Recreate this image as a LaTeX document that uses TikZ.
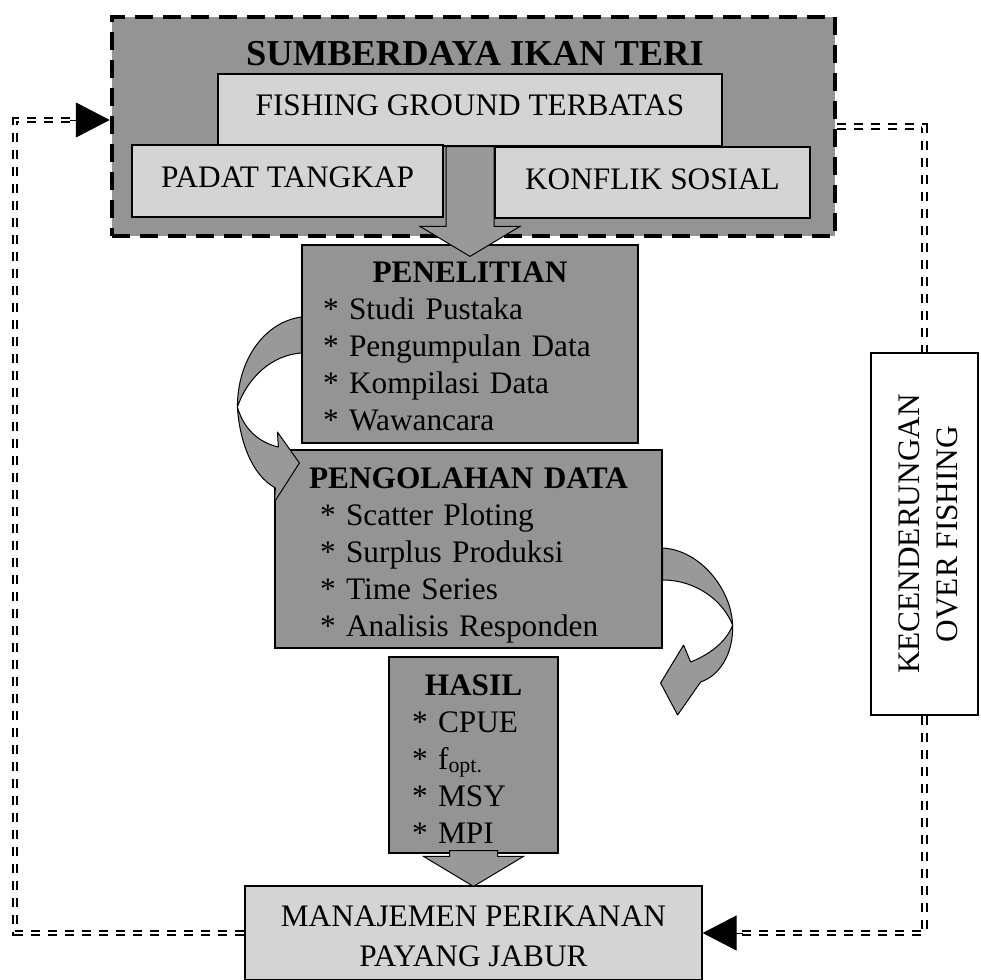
\documentclass[tikz,border=0pt]{standalone}
\usepackage{fontspec}
\setmainfont{Liberation Serif}
\usetikzlibrary{arrows.meta,calc}

\newcommand\boxfont{\fontsize{31.3}{37}\selectfont}
\newcommand\titlefont{\fontsize{36.5}{40}\selectfont\bfseries}

\tikzset{
  darkbox/.style={draw, fill=black!42, line width=1.2pt},
  lightbox/.style={draw, fill=black!17, line width=1.2pt},
  framebox/.style={draw, fill=black!42, line width=4.5pt, dash pattern=on 18pt off 10pt},
  fatarrow/.style={draw, fill=black!40, line width=1pt},
  curlarrow/.style={draw, fill=black!40, line width=1pt, line join=round},
  feedback/.style={double, double distance=2.2pt, line width=2.2pt, dash pattern=on 9pt off 8pt},
  headtip/.style={-{Triangle[length=34pt,width=35pt]}, line width=1pt},
  fat/.style={to path={let \p1=(\tikztostart), \p2=(\tikztotarget) in
    (\x2-24pt,\y1) -- (\x2+24pt,\y1) -- (\x2+24pt,\y2+30pt) -- (\x2+50pt,\y2+30pt)
    -- (\x2,\y2) -- (\x2-50pt,\y2+30pt) -- (\x2-24pt,\y2+30pt) -- cycle}}
}

\begin{document}
\begin{tikzpicture}[x=1pt,y=-1pt,font=\boxfont,inner sep=0pt]
\useasboundingbox (0,0) rectangle (980,980);

% problem block
\node[framebox, minimum width=723, minimum height=219] (sumber) at (473.5,126.5) {};
\node[font=\titlefont] (judul) at (475,54) {SUMBERDAYA IKAN TERI};
\node[lightbox, minimum width=504, minimum height=72, text height=21pt, text depth=10pt] (fishing) at (470,110) {FISHING GROUND TERBATAS};
\node[lightbox, minimum width=311, minimum height=72, text height=21pt, text depth=8pt] (padat) at (287.5,181) {PADAT TANGKAP};
\node[lightbox, minimum width=315, minimum height=71, text height=21pt, text depth=8pt] (konflik) at (652.5,182.5) {KONFLIK SOSIAL};

% steps
\node[darkbox, minimum width=336, minimum height=198, text width=294, align=left] (penelitian) at (470,344)
  {\makebox[\linewidth]{\rule{0pt}{25pt}\textbf{PENELITIAN}}\\{*} Studi Pustaka\\{*} Pengumpulan Data\\{*} Kompilasi Data\\{*} Wawancara};
\node[darkbox, minimum width=387, minimum height=198, text width=297, align=left] (pengolahan) at (468.5,549)
  {\makebox[\linewidth]{\rule{0pt}{34pt}\textbf{PENGOLAHAN DATA}}\\{*} Scatter Ploting\\{*} Surplus Produksi\\{*} Time Series\\{*} Analisis Responden};
\node[darkbox, minimum width=169, minimum height=196, text width=123, align=left] (hasil) at (473.5,755)
  {\makebox[\linewidth]{\rule{0pt}{28pt}\textbf{HASIL}}\\{*} CPUE\\{*} f\textsubscript{opt.}\\{*} MSY\\{*} MPI};
\node[lightbox, minimum width=457, minimum height=94, align=center] (manajemen) at (473.5,933)
  {\rule{0pt}{28pt}MANAJEMEN PERIKANAN\\[3pt] PAYANG JABUR};
\node[draw, fill=white, line width=1.2pt, rotate=90, minimum width=362, minimum height=107, align=center] (kecenderungan) at (924.5,534)
  {\rule{0pt}{28pt}KECENDERUNGAN\\[1pt] OVER FISHING};

% block arrows
\path[fatarrow] (fishing.south) to[fat] ([yshift=-12pt]penelitian.north);
\path[fatarrow] ([yshift=3pt]hasil.south) to[fat] ([yshift=-1pt]manajemen.north);
\draw[curlarrow, shift={(penelitian.west)}] (0,-27) .. controls (-37,-22) and (-64,16) .. (-64,63)
  .. controls (-62,96) and (-50,131) .. (-26,144) -- (-27,158) -- (-2,119) -- (-24,88) -- (-23,103)
  .. controls (-44,98) and (-58,84) .. (-64,63) .. controls (-54,34) and (-30,11) .. (0,9) -- cycle;
\draw[curlarrow, shift={(pengolahan.east)}] (0,-1) .. controls (38,1) and (69,41) .. (70,76)
  .. controls (71,106) and (56,127) .. (38,133) -- (15,166) -- (-2,134) -- (21,96) -- (28,113)
  .. controls (46,106) and (64,93) .. (70,76) .. controls (60,51) and (33,31) .. (0,31) -- cycle;

% feedback loops
\coordinate (masuk) at (sumber.west |- 0,120);
\draw[feedback, shorten >=32pt] (manajemen.west) -| (15,120) -- (masuk);
\draw[headtip] ([xshift=-40pt]masuk) -- (masuk);
\draw[feedback] (sumber.east) -| (kecenderungan.east);
\draw[feedback, shorten >=32pt] (kecenderungan.west) |- (manajemen.east);
\draw[headtip] ([xshift=40pt]manajemen.east) -- (manajemen.east);
\end{tikzpicture}
\end{document}
